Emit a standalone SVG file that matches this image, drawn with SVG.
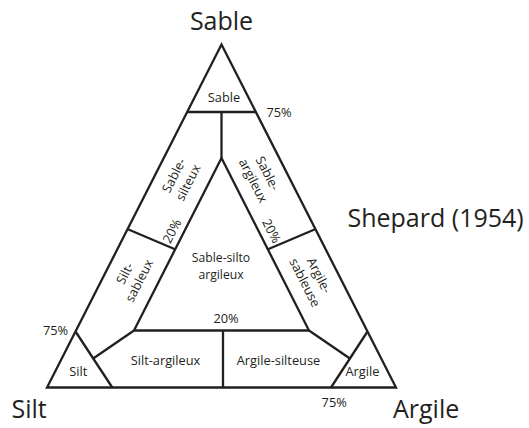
<svg xmlns="http://www.w3.org/2000/svg" width="529" height="428" viewBox="0 0 529 428">
<style>
.ln{fill:none;stroke:#231f20;stroke-width:2.3;stroke-linejoin:miter;stroke-linecap:butt}
.big{font-family:"Open Sans","Liberation Sans",sans-serif;font-size:25px;fill:#231f20}
.sm{font-family:"Open Sans","Liberation Sans",sans-serif;font-size:12.8px;fill:#231f20;text-anchor:middle}
.in{font-size:12.2px}
</style>
<rect width="529" height="428" fill="#ffffff"/>
<g id="connectors">
<polygon class="ln" points="221.5,44.5 396,387.5 47,387.5"/>
<line class="ln" x1="187.2" y1="112" x2="255.8" y2="112"/>
<line class="ln" x1="221.5" y1="112" x2="221.5" y2="158"/>
<polyline class="ln" points="134,330.5 221.5,158 309,330.5 134,330.5"/>
<line class="ln" x1="127.3" y1="229" x2="175" y2="249.3"/>
<line class="ln" x1="315.7" y1="229" x2="268" y2="249.3"/>
<polyline class="ln" points="75.5,331.5 112.3,387.5"/>
<line class="ln" x1="134" y1="330.5" x2="93.2" y2="358.5"/>
<polyline class="ln" points="367.5,331.5 331,387.5"/>
<line class="ln" x1="309" y1="330.5" x2="349.9" y2="358.5"/>
<line class="ln" x1="223" y1="330.5" x2="223" y2="387.5"/>
</g>
<g id="title-sable"><text class="big" x="221.5" y="29.5" text-anchor="middle">Sable</text></g>
<g id="title-shepard"><text class="big" x="347.5" y="226.5">Shepard (1954)</text></g>
<g id="title-silt"><text class="big" x="11.5" y="418">Silt</text></g>
<g id="title-argile"><text class="big" x="393" y="418">Argile</text></g>
<g id="node-sable"><text class="sm" x="224" y="101.7">Sable</text></g>
<g id="node-sable-silteux" transform="translate(181,179) rotate(-63)"><text class="sm" x="0" y="-3.5">Sable-</text><text class="sm" x="0" y="12.5">silteux</text></g>
<g id="node-sable-argileux" transform="translate(260.5,177) rotate(63)"><text class="sm" x="0" y="-3.5">Sable-</text><text class="sm" x="0" y="12.5">argileux</text></g>
<g id="node-silt-sableux" transform="translate(132,277) rotate(-63)"><text class="sm" x="0" y="-3.5">Silt-</text><text class="sm" x="0" y="12.5">sableux</text></g>
<g id="node-argile-sableuse" transform="translate(312,279) rotate(63)"><text class="sm" x="0" y="-3.5">Argile-</text><text class="sm" x="0" y="12.5">sableuse</text></g>
<g id="node-sable-silto-argileux"><text class="sm in" x="221" y="262">Sable-silto</text><text class="sm in" x="221" y="279">argileux</text></g>
<g id="node-silt-argileux"><text class="sm" x="165.5" y="365">Silt-argileux</text></g>
<g id="node-argile-silteuse"><text class="sm" x="278.5" y="365">Argile-silteuse</text></g>
<g id="node-silt"><text class="sm" x="78.3" y="376">Silt</text></g>
<g id="node-argile"><text class="sm" x="362.5" y="376">Argile</text></g>
<g id="pct-labels">
<text class="sm" x="279" y="116.7">75%</text>
<text class="sm" x="55.5" y="335">75%</text>
<text class="sm" x="334.2" y="407.3">75%</text>
<text class="sm" x="226" y="323">20%</text>
<g transform="translate(172,231) rotate(-63)"><text class="sm" x="0" y="4.5">20%</text></g>
<g transform="translate(271.5,231) rotate(63)"><text class="sm" x="0" y="4.5">20%</text></g>
</g>
</svg>
